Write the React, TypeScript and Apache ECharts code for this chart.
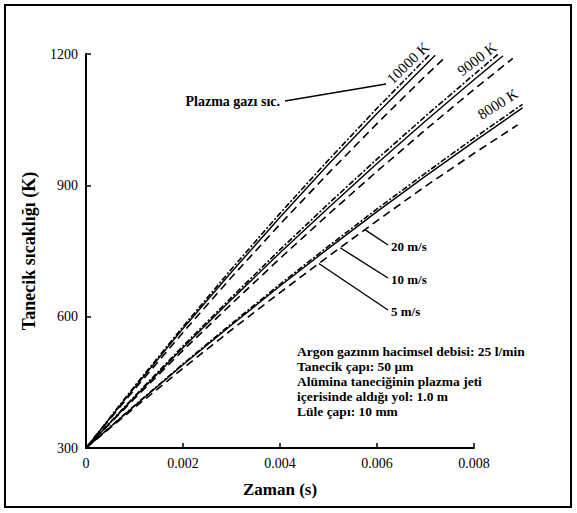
import React, { useEffect, useRef } from "react";
import * as echarts from "echarts";

// Particle temperature (K) vs. time (s) for three plasma gas temperatures
// (10000 K, 9000 K, 8000 K) and three gas velocities (20, 10, 5 m/s).
// Each curve runs until the particle has travelled 1.0 m in the jet,
// so some of them continue past the last labelled time.
const timeTicks = [0, 0.002, 0.004, 0.006, 0.008];

// 10000 K plasma gas
const t10000_20 = [0, 0.001, 0.002, 0.003, 0.004, 0.005, 0.006, 0.007, 0.0071];
const T10000_20 = [300, 441, 577, 709, 836, 958, 1076, 1189, 1200];
const t10000_10 = [0, 0.001, 0.002, 0.003, 0.004, 0.005, 0.006, 0.007, 0.0072];
const T10000_10 = [300, 438, 573, 702, 827, 948, 1064, 1175, 1197];
const t10000_5 = [0, 0.001, 0.002, 0.003, 0.004, 0.005, 0.006, 0.007, 0.0074];
const T10000_5 = [300, 434, 564, 690, 811, 928, 1041, 1150, 1192];

// 9000 K plasma gas
const t9000_20 = [0, 0.001, 0.002, 0.003, 0.004, 0.005, 0.006, 0.007, 0.008, 0.0085];
const T9000_20 = [300, 418, 533, 644, 753, 858, 960, 1058, 1153, 1200];
const t9000_10 = [0, 0.001, 0.002, 0.003, 0.004, 0.005, 0.006, 0.007, 0.008, 0.0086];
const T9000_10 = [300, 416, 529, 639, 746, 849, 950, 1047, 1141, 1196];
const t9000_5 = [0, 0.001, 0.002, 0.003, 0.004, 0.005, 0.006, 0.007, 0.008, 0.0088];
const T9000_5 = [300, 413, 523, 629, 733, 834, 932, 1027, 1119, 1190];

// 8000 K plasma gas
const t8000_20 = [0, 0.001, 0.002, 0.003, 0.004, 0.005, 0.006, 0.007, 0.008, 0.009];
const T8000_20 = [300, 397, 492, 584, 674, 761, 846, 928, 1008, 1085];
const t8000_10 = [0, 0.001, 0.002, 0.003, 0.004, 0.005, 0.006, 0.007, 0.008, 0.009];
const T8000_10 = [300, 396, 490, 581, 670, 756, 840, 921, 1000, 1077];
const t8000_5 = [0, 0.001, 0.002, 0.003, 0.004, 0.005, 0.006, 0.007, 0.008, 0.0089];
const T8000_5 = [300, 392, 482, 570, 655, 738, 819, 898, 973, 1038];

const noteLines = [
  "Argon gazının hacimsel debisi: 25 l/min",
  "Tanecik çapı: 50 µm",
  "Alümina taneciğinin plazma jeti",
  "içerisinde aldığı yol: 1.0 m",
  "Lüle çapı: 10 mm",
];

const FONT = "'Liberation Serif', 'Times New Roman', serif";

const pairs = (t: number[], T: number[]) => t.map((v, i) => [v, T[i]]);

// linear interpolation along a curve, used to anchor the velocity pointers
const interp = (t: number[], T: number[], x: number) => {
  for (let i = 1; i < t.length; i++) {
    if (x <= t[i]) {
      const f = (x - t[i - 1]) / (t[i] - t[i - 1]);
      return T[i - 1] + f * (T[i] - T[i - 1]);
    }
  }
  return T[T.length - 1];
};

type Style = "dashdot" | "solid" | "dashed";
const lineStyle = (s: Style) => ({
  color: "#000",
  width: s === "solid" ? 1.4 : 1.6,
  type: s === "solid" ? "solid" : s === "dashed" ? [8, 5] : [6, 2, 2, 2],
});

// curves live on the wider second grid so that they may run past 0.008
const mkSeries = (name: string, data: number[][], s: Style) => ({
  name,
  type: "line",
  xAxisIndex: 1,
  yAxisIndex: 1,
  data,
  showSymbol: false,
  symbol: "none",
  lineStyle: lineStyle(s),
});

const GRID_LEFT = 86;
const GRID_TOP = 54;
const GRID_BOTTOM = 65;
const AXIS_WIDTH = 388; // pixel length of 0 … 0.008

export default function App() {
  const ref = useRef<HTMLDivElement>(null);
  useEffect(() => {
    if (!ref.current) return;
    const chart = echarts.init(ref.current, undefined, { renderer: "svg" });
    const W = 577;
    chart.setOption({
      animation: false,
      backgroundColor: "#fff",
      grid: [
        { left: GRID_LEFT, top: GRID_TOP, width: AXIS_WIDTH, bottom: GRID_BOTTOM },
        {
          left: GRID_LEFT,
          top: GRID_TOP,
          width: (AXIS_WIDTH * 0.01) / 0.008,
          bottom: GRID_BOTTOM,
        },
      ],
      xAxis: [
        {
          gridIndex: 0,
          type: "value",
          min: 0,
          max: 0.008,
          interval: 0.002,
          name: "Zaman (s)",
          nameLocation: "middle",
          nameGap: 33,
          nameTextStyle: { fontFamily: FONT, fontWeight: "bold", fontSize: 17, color: "#000" },
          axisLine: { show: true, onZero: false, lineStyle: { color: "#000", width: 2 } },
          axisTick: { show: true, inside: true, length: 5, lineStyle: { color: "#000", width: 1.5 } },
          splitLine: { show: false },
          axisLabel: {
            fontFamily: FONT,
            fontSize: 14,
            color: "#000",
            margin: 8,
            customValues: timeTicks,
            formatter: (v: number) => (v === 0 ? "0" : v.toFixed(3)),
          },
        },
        { gridIndex: 1, type: "value", min: 0, max: 0.01, show: false },
      ],
      yAxis: [
        {
          gridIndex: 0,
          type: "value",
          min: 300,
          max: 1200,
          interval: 300,
          name: "Tanecik sıcaklığı (K)",
          nameLocation: "middle",
          nameGap: 48,
          nameTextStyle: { fontFamily: FONT, fontWeight: "bold", fontSize: 18, color: "#000" },
          axisLine: { show: true, onZero: false, lineStyle: { color: "#000", width: 2 } },
          axisTick: { show: true, inside: true, length: 5, lineStyle: { color: "#000", width: 1.5 } },
          splitLine: { show: false },
          axisLabel: {
            fontFamily: FONT,
            fontSize: 14,
            color: "#000",
            margin: 8,
            formatter: (v: number) => String(v),
          },
        },
        { gridIndex: 1, type: "value", min: 300, max: 1200, show: false },
      ],
      series: [
        mkSeries("10000 K 20 m/s", pairs(t10000_20, T10000_20), "dashdot"),
        mkSeries("10000 K 10 m/s", pairs(t10000_10, T10000_10), "solid"),
        mkSeries("10000 K 5 m/s", pairs(t10000_5, T10000_5), "dashed"),
        mkSeries("9000 K 20 m/s", pairs(t9000_20, T9000_20), "dashdot"),
        mkSeries("9000 K 10 m/s", pairs(t9000_10, T9000_10), "solid"),
        mkSeries("9000 K 5 m/s", pairs(t9000_5, T9000_5), "dashed"),
        mkSeries("8000 K 20 m/s", pairs(t8000_20, T8000_20), "dashdot"),
        mkSeries("8000 K 10 m/s", pairs(t8000_10, T8000_10), "solid"),
        mkSeries("8000 K 5 m/s", pairs(t8000_5, T8000_5), "dashed"),
        // baseline of the time axis, drawn as a plain line as well
        {
          name: "time axis",
          type: "line",
          xAxisIndex: 0,
          yAxisIndex: 0,
          data: [
            [0, 300],
            [0.008, 300],
          ],
          showSymbol: false,
          symbol: "none",
          clip: false,
          z: 10,
          silent: true,
          lineStyle: { color: "#000", width: 2, type: "solid" },
        },
      ],
    });

    const toPx = (t: number, T: number) =>
      chart.convertToPixel({ gridIndex: 1 }, [t, T]) as number[];
    const txt = (x: number, y: number, text: string, extra: any = {}) => ({
      type: "text",
      x,
      y,
      style: { text, font: `bold 13.5px ${FONT}`, fill: "#000", verticalAlign: "middle", ...extra },
    });
    const seg = (x1: number, y1: number, x2: number, y2: number) => ({
      type: "line",
      shape: { x1, y1, x2, y2 },
      style: { stroke: "#000", lineWidth: 1.4 },
    });
    const rotTxt = (x: number, y: number, text: string, deg: number) => ({
      ...txt(x, y, text, { align: "center", font: `15px ${FONT}` }),
      rotation: (deg * Math.PI) / 180,
    });
    // pointer tips sit on the lower edge of the 8000 K bundle
    const tip = (x: number) => toPx(x, interp(t8000_5, T8000_5, x));
    const p20 = tip(0.00575);
    const p10 = tip(0.00524);
    const p5 = tip(0.0048);
    const labelX = 391;
    const base = toPx(0, 300);
    const baseEnd = toPx(0.008, 300);

    chart.setOption({
      graphic: [
        {
          type: "rect",
          shape: { x: 5, y: 5, width: W - 11, height: 502 },
          style: { fill: "none", stroke: "#000", lineWidth: 2 },
          silent: true,
        },
        {
          type: "rect",
          z: 100,
          shape: { x: base[0] - 1, y: base[1] - 1, width: baseEnd[0] - base[0] + 1, height: 2 },
          style: { fill: "#000", stroke: "none" },
          silent: true,
        },
        txt(280, 101, "Plazma gazı sıc.", { align: "right", font: `bold 14px ${FONT}` }),
        seg(285, 101, 386, 84),
        rotTxt(408, 63, "10000 K", 44),
        rotTxt(477, 59, "9000 K", 37),
        rotTxt(498, 104, "8000 K", 32),
        seg(labelX - 3, 245, p20[0], p20[1]),
        txt(labelX, 246, "20 m/s", { font: `bold 13px ${FONT}` }),
        seg(labelX - 3, 278, p10[0], p10[1]),
        txt(labelX, 279, "10 m/s", { font: `bold 13px ${FONT}` }),
        seg(labelX - 3, 310, p5[0], p5[1]),
        txt(labelX, 311, "5 m/s", { font: `bold 13px ${FONT}` }),
        ...noteLines.map((s, i) => txt(297, 351 + i * 15, s)),
      ],
    });
    return () => chart.dispose();
  }, []);
  return (
    <div
      ref={ref}
      style={{ position: "fixed", left: 0, top: 0, width: 577, height: 513, background: "#fff" }}
    />
  );
}
